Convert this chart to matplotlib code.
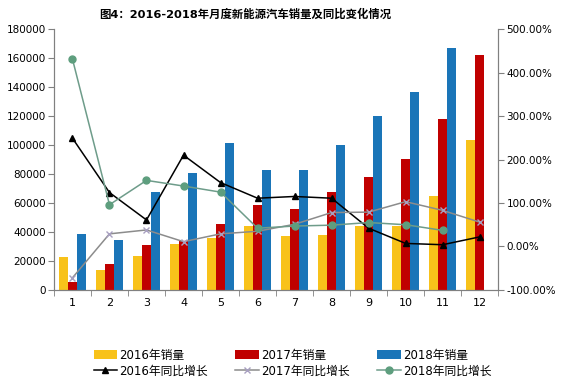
import matplotlib
matplotlib.use("Agg")
import matplotlib.pyplot as plt
import numpy as np
from matplotlib.ticker import FuncFormatter, FixedLocator

plt.rcParams['font.family'] = ['DejaVu Sans', 'Noto Sans CJK SC']

months = [str(i) for i in range(1, 13)]
sales_2016 = [22700, 13900, 23400, 31900, 36000, 44400, 37100, 38000, 43900, 43900, 65100, 103600]
sales_2017 = [5700, 17800, 31200, 34100, 45500, 58900, 55800, 67800, 78100, 90600, 118200, 161900]
sales_2018 = [38700, 34800, 67600, 81000, 101300, 83100, 83100, 99900, 120000, 136800, 167300, np.nan]
yoy_2016 = [249, 124, 61, 210, 147, 111, 115, 111, 42, 7, 4, 22]
yoy_2017 = [-72, 29, 38, 11, 29, 35, 51, 78, 79, 103, 83, 56]
yoy_2018 = [431, 96, 152, 139, 125, 42, 47, 49, 55, 50, 37, np.nan]

title = "图4：2016-2018年月度新能源汽车销量及同比变化情况"
labels_bar = ["2016年销量", "2017年销量", "2018年销量"]
labels_line = ["2016年同比增长", "2017年同比增长", "2018年同比增长"]

fig = plt.figure(figsize=(5.68, 3.83), dpi=100)
ax = fig.add_axes([0.095, 0.243, 0.782, 0.681])
ax2 = ax.twinx()

x = np.arange(len(months))
w = 0.24
b1 = ax.bar(x - w, sales_2016, w, color='#F8C21A', label=labels_bar[0])
b2 = ax.bar(x, sales_2017, w, color='#C00000', label=labels_bar[1])
b3 = ax.bar(x + w, sales_2018, w, color='#1A75B8', label=labels_bar[2])

l1, = ax2.plot(x, yoy_2016, color='black', lw=1.1, marker='^', ms=5, label=labels_line[0])
l2, = ax2.plot(x, yoy_2017, color='#8C8C8C', lw=1.1, marker='x', ms=4,
               mec='#A8A0C0', mew=1.0, label=labels_line[1])
l3, = ax2.plot(x, yoy_2018, color='#6E9C8A', lw=1.1, marker='o', ms=5,
               mfc='#5E9E7E', mec='#5E9E7E', label=labels_line[2])

ax.set_xlim(-0.5, 11.5)
ax.set_ylim(0, 180000)
ax.set_yticks(np.arange(0, 180001, 20000))
ax2.set_ylim(-100, 500)
ax2.set_yticks(np.arange(-100, 501, 100))
ax2.yaxis.set_major_formatter(FuncFormatter(lambda v, p: f"{v:.2f}%"))

ax.set_xticks(x)
ax.set_xticklabels(months)
ax.xaxis.set_minor_locator(FixedLocator(np.arange(-0.5, 12, 1)))
ax.tick_params(axis='x', which='major', length=0, labelsize=8, pad=6)
ax.tick_params(axis='x', which='minor', length=4, color='#808080', direction='out')
ax.tick_params(axis='y', length=4, color='#808080', labelsize=7.5, pad=2)
ax2.tick_params(axis='y', length=4, color='#808080', labelsize=7.5, pad=2)

for a in (ax, ax2):
    a.spines['top'].set_visible(False)
    for s in ('left', 'right', 'bottom'):
        a.spines[s].set_color('#808080')

fig.text(0.431, 0.963, title, ha='center', va='center', fontsize=8.2, fontweight='bold')

handles = [b1, l1, b2, l2, b3, l3]
labs = [labels_bar[0], labels_line[0], labels_bar[1], labels_line[1], labels_bar[2], labels_line[2]]
fig.legend(handles, labs, loc='center', bbox_to_anchor=(0.515, 0.052), ncol=3,
           frameon=False, fontsize=8.5, handlelength=2.0, handleheight=0.7,
           columnspacing=2.3, handletextpad=0.2, labelspacing=0.25)

fig.savefig("out.png", dpi=100)
